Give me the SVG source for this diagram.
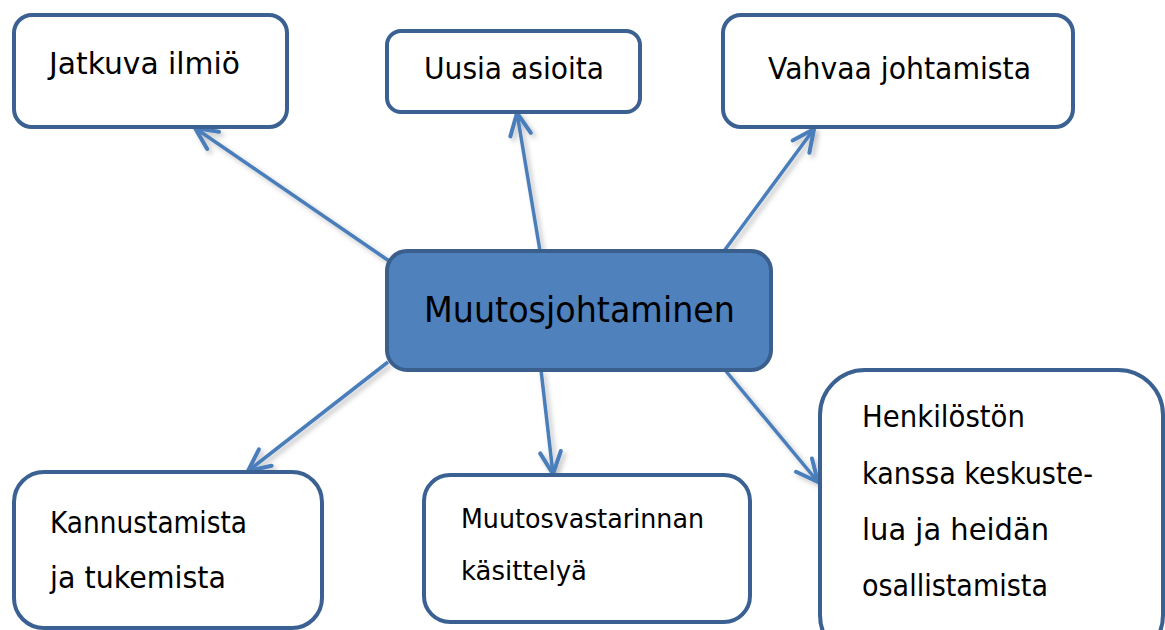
<svg xmlns="http://www.w3.org/2000/svg" width="1165" height="630" viewBox="0 0 1165 630">
  <defs>
    <filter id="sh" x="-20%" y="-20%" width="140%" height="140%">
      <feDropShadow dx="3" dy="3" stdDeviation="2.5" flood-color="#000" flood-opacity="0.25"/>
    </filter>
    <marker id="arr" markerUnits="userSpaceOnUse" markerWidth="30" markerHeight="30" viewBox="-22 -12 26 24" refX="0" refY="0" orient="auto">
      <path d="M -19 -9 L 0 0 L -19 9" fill="none" stroke="#4a7ebb" stroke-width="3.5" stroke-linecap="round" stroke-linejoin="round"/>
    </marker>
  </defs>
  <style>
    .box { fill: #ffffff; stroke: #3b6192; stroke-width: 4; }
    .center { fill: #4f81bd; stroke: #3a5f8c; stroke-width: 4; }
    .conn { stroke: #4a7ebb; stroke-width: 3.5; fill: none; marker-end: url(#arr); }
    .t { font-family: "DejaVu Sans", Verdana, sans-serif; fill: #000; }
  </style>
  <rect width="1165" height="630" fill="#ffffff"/>

  <g id="connectors" filter="url(#sh)">
    <line class="conn" x1="392" y1="263" x2="195" y2="128"/>
    <line class="conn" x1="540" y1="251" x2="517" y2="113"/>
    <line class="conn" x1="724" y1="251" x2="814" y2="129"/>
    <line class="conn" x1="388" y1="362" x2="248" y2="471"/>
    <line class="conn" x1="541" y1="370" x2="553" y2="474"/>
    <line class="conn" x1="725" y1="370" x2="818" y2="482"/>
  </g>

  <g id="node-jatkuva">
    <rect class="box" x="14" y="15" width="273" height="112" rx="18"/>
    <text class="t" x="49" y="74" font-size="30" textLength="191" lengthAdjust="spacingAndGlyphs">Jatkuva ilmiö</text>
  </g>

  <g id="node-uusia">
    <rect class="box" x="387" y="31" width="253" height="81" rx="14"/>
    <text class="t" x="424" y="79" font-size="30" textLength="180" lengthAdjust="spacingAndGlyphs">Uusia asioita</text>
  </g>

  <g id="node-vahvaa">
    <rect class="box" x="723" y="15" width="350" height="112" rx="18"/>
    <text class="t" x="768" y="79" font-size="30" textLength="263" lengthAdjust="spacingAndGlyphs">Vahvaa johtamista</text>
  </g>

  <g id="node-center">
    <rect class="center" x="387" y="251" width="384" height="119" rx="20"/>
    <text class="t" x="424" y="322" font-size="35" textLength="311" lengthAdjust="spacingAndGlyphs">Muutosjohtaminen</text>
  </g>

  <g id="node-kannustamista">
    <rect class="box" x="14" y="472" width="308" height="156" rx="30"/>
    <text class="t" x="50" y="533" font-size="30" textLength="197" lengthAdjust="spacingAndGlyphs">Kannustamista</text>
    <text class="t" x="50" y="588" font-size="30" textLength="176" lengthAdjust="spacingAndGlyphs">ja tukemista</text>
  </g>

  <g id="node-muutosvastarinnan">
    <rect class="box" x="424" y="475" width="326" height="147" rx="26"/>
    <text class="t" x="461" y="528" font-size="26" textLength="243" lengthAdjust="spacingAndGlyphs">Muutosvastarinnan</text>
    <text class="t" x="461" y="580" font-size="26" textLength="126" lengthAdjust="spacingAndGlyphs">käsittelyä</text>
  </g>

  <g id="node-henkiloston">
    <rect class="box" x="820" y="370" width="343" height="290" rx="45"/>
    <text class="t" x="862" y="427" font-size="30" textLength="163" lengthAdjust="spacingAndGlyphs">Henkilöstön</text>
    <text class="t" x="862" y="484" font-size="30" textLength="231" lengthAdjust="spacingAndGlyphs">kanssa keskuste-</text>
    <text class="t" x="862" y="540" font-size="30" textLength="187" lengthAdjust="spacingAndGlyphs">lua ja heidän</text>
    <text class="t" x="862" y="596" font-size="30" textLength="186" lengthAdjust="spacingAndGlyphs">osallistamista</text>
  </g>
</svg>
